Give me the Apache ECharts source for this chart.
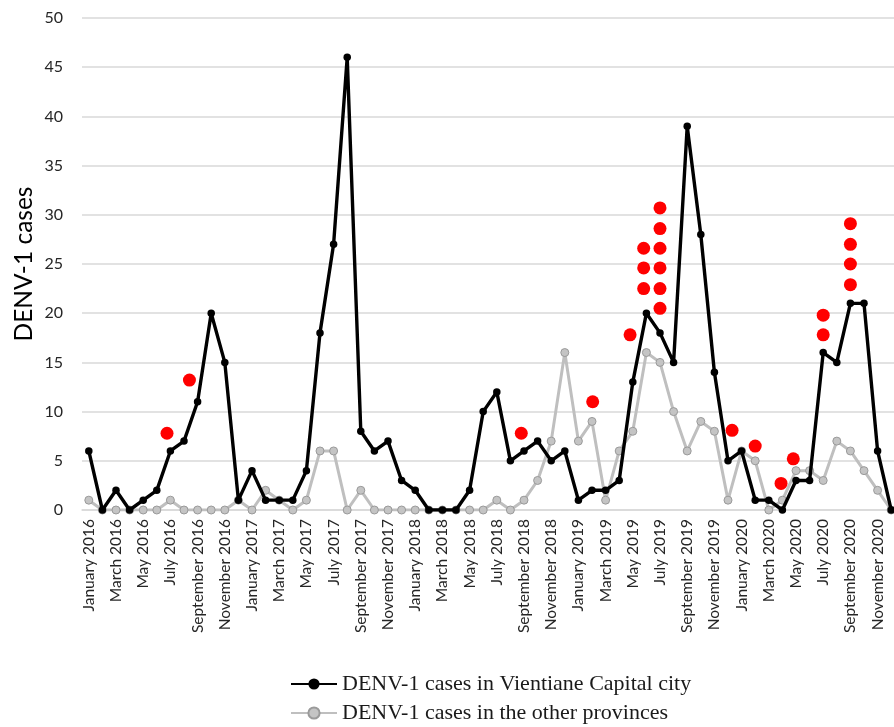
<!DOCTYPE html>
<html>
<head>
<meta charset="utf-8">
<script src="https://cdn.jsdelivr.net/npm/echarts@6/dist/echarts.min.js"></script>
<style>html,body{margin:0;padding:0;background:#fff}#c{width:894px;height:727px}</style>
</head>
<body>
<div id="c"></div>
<script>
const months = ['January','February','March','April','May','June','July','August','September','October','November','December'];
const years = [2016, 2017, 2018, 2019, 2020];
const categories = [];
years.forEach(y => months.forEach(m => categories.push(m + ' ' + y)));

const vientiane = [
  6,0,2,0,1,2,6,7,11,20,15,1,
  4,1,1,1,4,18,27,46,8,6,7,3,
  2,0,0,0,2,10,12,5,6,7,5,6,
  1,2,2,3,13,20,18,15,39,28,14,5,
  6,1,1,0,3,3,16,15,21,21,6,0
];
const otherProvinces = [
  1,0,0,0,0,0,1,0,0,0,0,1,
  0,2,1,0,1,6,6,0,2,0,0,0,
  0,0,0,0,0,0,1,0,1,3,7,16,
  7,9,1,6,8,16,15,10,6,9,8,1,
  6,5,0,1,4,4,3,7,6,4,2,0
];
// red markers: position in months from January 2016, and height on the case axis
const redMonthPos = [5.75, 7.4, 31.8, 37.05, 39.8, 40.8, 40.8, 40.8, 42, 42, 42, 42, 42, 42, 47.3, 49, 50.9, 51.8, 54, 54, 56, 56, 56, 56];
const redHeight = [7.8, 13.2, 7.8, 11.0, 17.8, 22.5, 24.6, 26.6, 20.5, 22.5, 24.6, 26.6, 28.6, 30.7, 8.1, 6.5, 2.7, 5.2, 17.8, 19.8, 22.9, 25.0, 27.0, 29.1];
const yTicks = { min: 0, max: 50, interval: 5 };
const seriesNames = ['DENV-1 cases in Vientiane Capital city', 'DENV-1 cases in the other provinces'];

const legendText = { fontFamily: '"Liberation Serif", "Times New Roman", serif', fontSize: 22, color: '#1a1a1a' };
const chart = echarts.init(document.getElementById('c'), null, { renderer: 'canvas' });
chart.setOption({
  backgroundColor: '#fff',
  animation: false,
  grid: { left: 82, right: -4, top: 18, bottom: 217, containLabel: false, outerBoundsMode: 'none' },
  legend: [{
    left: 285, top: 668, itemWidth: 46, itemHeight: 14, itemGap: 6,
    data: [seriesNames[0]], textStyle: legendText
  }, {
    left: 285, top: 697, itemWidth: 46, itemHeight: 14, itemGap: 6,
    data: [seriesNames[1]], textStyle: legendText
  }],
  xAxis: [{
    type: 'category',
    data: categories,
    boundaryGap: true,
    axisLine: { show: true, lineStyle: { color: '#d9d9d9', width: 1.5 } },
    axisTick: { show: false },
    axisLabel: {
      interval: 1,
      rotate: 90,
      margin: 9,
      fontFamily: 'Lato, "Open Sans", sans-serif',
      fontSize: 15.5,
      color: '#262626'
    },
    splitLine: { show: false }
  }, {
    type: 'value',
    min: -0.5,
    max: 59.5,
    show: false
  }],
  yAxis: {
    type: 'value',
    min: yTicks.min,
    max: yTicks.max,
    interval: yTicks.interval,
    name: 'DENV-1 cases',
    nameLocation: 'middle',
    nameGap: 45,
    nameMoveOverlap: false,
    nameTextStyle: { fontFamily: 'Lato, "Open Sans", sans-serif', fontSize: 24.5, color: '#000' },
    axisLine: { show: false },
    axisTick: { show: false },
    axisLabel: { fontFamily: 'Lato, "Open Sans", sans-serif', fontSize: 16, color: '#262626', margin: 19 },
    splitLine: { lineStyle: { color: '#d9d9d9', width: 1.5 } }
  },
  series: [{
    name: seriesNames[1],
    type: 'line',
    data: otherProvinces,
    symbol: 'circle',
    symbolSize: 8,
    lineStyle: { color: '#bfbfbf', width: 3 },
    itemStyle: { color: '#c4c4c4', borderColor: '#9a9a9a', borderWidth: 1 },
    z: 2
  }, {
    name: seriesNames[0],
    type: 'line',
    data: vientiane,
    symbol: 'circle',
    symbolSize: 7.5,
    lineStyle: { color: '#000', width: 3.4 },
    itemStyle: { color: '#000' },
    z: 3
  }, {
    name: 'markers',
    type: 'scatter',
    xAxisIndex: 1,
    data: redMonthPos.map((x, i) => [x, redHeight[i]]),
    symbol: 'circle',
    symbolSize: 13,
    itemStyle: { color: '#ff0000', opacity: 1 },
    z: 4
  }]
});
</script>
</body>
</html>
